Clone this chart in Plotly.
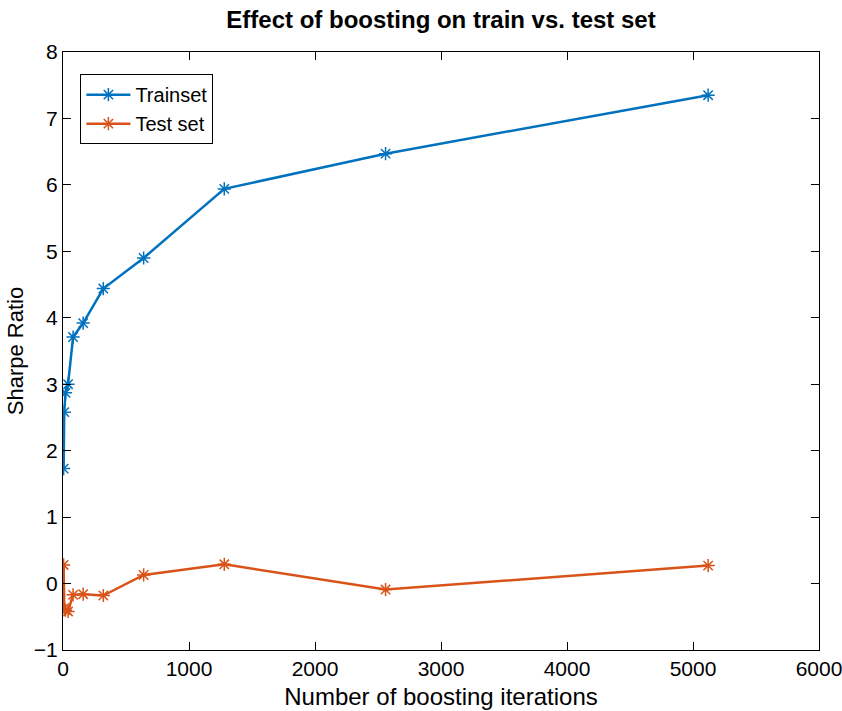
import plotly.graph_objects as go

iterations = [5, 10, 20, 40, 80, 160, 320, 640, 1280, 2560, 5120]
train_sharpe = [1.73, 2.58, 2.87, 3.00, 3.71, 3.92, 4.44, 4.90, 5.94, 6.47, 7.35]
test_sharpe = [0.28, -0.37, -0.40, -0.42, -0.17, -0.16, -0.18, 0.13, 0.29, -0.09, 0.27]

x_ticks = [0, 1000, 2000, 3000, 4000, 5000, 6000]
y_ticks = [-1, 0, 1, 2, 3, 4, 5, 6, 7, 8]
y_tick_text = ["\u22121", "0", "1", "2", "3", "4", "5", "6", "7", "8"]

BLUE = "#0072BD"
ORANGE = "#D95319"
FONT = "Liberation Sans, Arial, Helvetica, sans-serif"

fig = go.Figure()
fig.add_trace(go.Scatter(
    x=iterations, y=train_sharpe, name="Trainset", mode="lines+markers",
    line=dict(color=BLUE, width=2.5),
    marker=dict(symbol="asterisk-open", size=11, line=dict(color=BLUE, width=1.5)),
))
fig.add_trace(go.Scatter(
    x=iterations, y=test_sharpe, name="Test set", mode="lines+markers",
    line=dict(color=ORANGE, width=2.5),
    marker=dict(symbol="asterisk-open", size=11, line=dict(color=ORANGE, width=1.5)),
))

axis_common = dict(
    showgrid=False, zeroline=False, showline=True, linecolor="black", linewidth=1.2,
    mirror="ticks", ticks="inside", ticklen=8, tickwidth=1, tickcolor="black",
    tickfont=dict(family=FONT, size=21, color="black"),
    automargin=False, ticklabeloverflow="allow",
)

fig.update_layout(
    width=842, height=711,
    margin=dict(l=63, r=23, t=52, b=61),
    paper_bgcolor="white", plot_bgcolor="white",
    font=dict(family=FONT, color="black"),
    title=dict(text="<b>Effect of boosting on train vs. test set</b>",
               x=0.5, xanchor="center", y=0.972, yanchor="middle",
               xref="paper",
               font=dict(family=FONT, size=24, color="black")),
    xaxis=dict(range=[0, 6000], tickvals=x_ticks, ticktext=[str(v) for v in x_ticks],
               title=dict(text="Number of boosting iterations", standoff=8,
                          font=dict(family=FONT, size=24, color="black")),
               **axis_common),
    yaxis=dict(range=[-1, 8], tickvals=y_ticks, ticktext=y_tick_text,
               title=dict(text="Sharpe Ratio", standoff=4,
                          font=dict(family=FONT, size=22, color="black")),
               **axis_common),
    showlegend=True,
    legend=dict(x=0.023, y=0.963, xanchor="left", yanchor="top",
                bgcolor="white", bordercolor="black", borderwidth=1,
                font=dict(family=FONT, size=20, color="black"),
                itemwidth=44, tracegroupgap=0),
)

fig.write_html("out.html")
